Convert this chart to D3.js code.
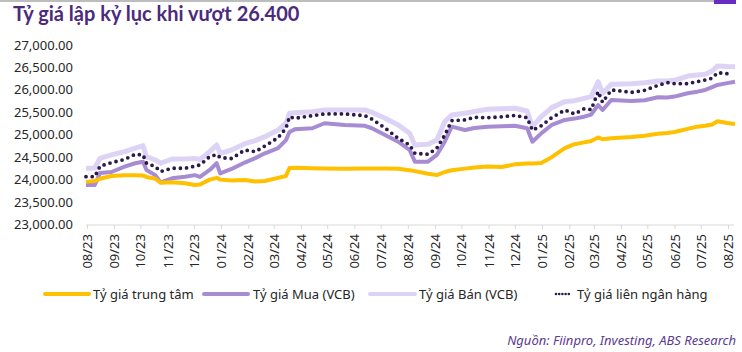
<!DOCTYPE html>
<html>
<head>
<meta charset="utf-8">
<script src="https://cdn.jsdelivr.net/npm/d3@7"></script>
<style>
  body { margin: 0; background: #fff; }
  svg text { font-family: "Noto Sans", sans-serif; }
</style>
</head>
<body>
<div id="chart"></div>
<script>
// ngay lay mau (khoang 2-3 diem / thang)
const dates = ["2023-07-31","2023-08-10","2023-08-16","2023-08-29","2023-09-13","2023-09-25","2023-10-04","2023-10-08","2023-10-18","2023-10-24",
  "2023-11-06","2023-11-21","2023-12-02","2023-12-08","2023-12-19","2023-12-27","2023-12-31","2024-01-13","2024-01-28","2024-02-09",
  "2024-02-20","2024-03-06","2024-03-15","2024-03-19","2024-03-25","2024-04-14","2024-04-28","2024-05-21","2024-06-13","2024-06-21",
  "2024-07-06","2024-07-21","2024-08-03","2024-08-09","2024-08-24","2024-09-03","2024-09-12","2024-09-20","2024-10-05","2024-10-16",
  "2024-10-31","2024-11-16","2024-12-01","2024-12-15","2024-12-21","2024-12-31","2025-01-12","2025-01-27","2025-02-07","2025-02-18",
  "2025-02-26","2025-03-06","2025-03-11","2025-03-21","2025-04-13","2025-04-28","2025-05-13","2025-05-24","2025-06-01","2025-06-16",
  "2025-06-27","2025-07-06","2025-07-14","2025-07-20","2025-07-31","2025-08-09"];

const trungTam = [23950,23970,24020,24080,24100,24100,24090,24060,24020,23930,
  23940,23920,23880,23890,24000,24040,24000,23980,23990,23960,
  23970,24040,24080,24260,24265,24255,24250,24240,24250,24250,
  24250,24240,24210,24190,24130,24100,24170,24210,24245,24270,
  24290,24280,24340,24360,24360,24370,24500,24700,24790,24830,
  24860,24940,24900,24920,24950,24980,25020,25040,25060,25130,
  25180,25200,25230,25300,25260,25240];

const muaVCB = [23880,23880,24150,24170,24290,24365,24400,24215,24100,23940,
  24030,24065,24100,24060,24215,24365,24140,24237,24380,24480,
  24587,24700,24880,25060,25120,25145,25256,25218,25200,25145,
  24995,24845,24660,24400,24400,24550,24845,25180,25106,25150,
  25180,25190,25200,25145,24845,25030,25218,25330,25360,25403,
  25450,25663,25552,25775,25752,25770,25835,25830,25850,25924,
  25960,25998,26060,26110,26150,26183];

const banVCB = [24253,24260,24475,24550,24623,24700,24757,24512,24438,24365,
  24460,24460,24470,24450,24623,24772,24587,24660,24800,24870,
  24957,25106,25256,25478,25490,25515,25552,25552,25552,25500,
  25367,25218,25032,24772,24787,24883,25292,25440,25478,25520,
  25567,25580,25590,25530,25180,25403,25604,25738,25760,25812,
  25850,26183,25924,26124,26139,26160,26198,26200,26213,26309,
  26330,26346,26420,26532,26520,26515];

const lienNganHang = [24065,24065,24300,24380,24450,24565,24550,24365,24290,24180,
  24253,24253,24300,24327,24512,24560,24490,24470,24660,24623,
  24750,24935,25145,25400,25367,25425,25463,25463,25425,25350,
  25150,24920,24772,24587,24565,24700,24990,25315,25330,25390,
  25380,25400,25430,25380,25100,25200,25380,25552,25463,25580,
  25560,25960,25723,25998,25945,25990,26100,26161,26139,26139,
  26183,26220,26260,26383,26361,26361];

const yTicks = [23000,23500,24000,24500,25000,25500,26000,26500,27000];

const width = 742, height = 352;
const parse = d3.timeParse("%Y-%m-%d");
const t = dates.map(parse);

let svg = d3.select("#chart").append("svg")
  .attr("width", width)
  .attr("height", height);

// vien tren + o tim goc phai
svg.append("rect").attr("x", 0).attr("y", 0).attr("width", 714).attr("height", 2).attr("fill", "#bdbdbd");
svg.append("rect").attr("x", 714).attr("y", 0).attr("width", 22).attr("height", 4).attr("fill", "#6a2bc4");

svg.append("text")
  .attr("x", 13).attr("y", 21)
  .attr("fill", "#4b2a7d")
  .style("font-family", "Lato, sans-serif")
  .style("font-weight", "bold")
  .style("font-size", "20px")
  .text("Tỷ giá lập kỷ lục khi vượt 26.400");

let x = d3.scaleTime()
  .domain([parse("2023-07-31"), parse("2025-08-09")])
  .range([86, 735]);
let y = d3.scaleLinear().domain([23000, 27000]).range([224.5, 45]);

// truc y (chi co nhan)
svg.append("g").selectAll("text")
  .data(yTicks)
  .enter().append("text")
  .attr("x", 73)
  .attr("y", d => y(d))
  .attr("dy", "0.35em")
  .attr("text-anchor", "end")
  .attr("fill", "#262626")
  .style("font-size", "13px")
  .text(d => d3.format(",.2f")(d));

// truc x
let xAxis = svg.append("g")
  .attr("transform", "translate(0,225)")
  .call(d3.axisBottom(x)
    .ticks(d3.timeMonth.every(1))
    .tickSize(4)
    .tickSizeOuter(0)
    .tickFormat(d3.timeFormat("%m/%y")));
xAxis.select(".domain").attr("stroke", "#d9d9d9").attr("d", "M86,0H734");
xAxis.selectAll(".tick line").attr("stroke", "#d9d9d9");
xAxis.selectAll(".tick text")
  .attr("transform", "rotate(-90)")
  .attr("x", -9)
  .attr("y", 0)
  .attr("dy", "0.35em")
  .attr("text-anchor", "end")
  .attr("fill", "#262626")
  .style("font-family", "Noto Sans, sans-serif")
  .style("font-size", "13px");

function lineOf(vals) {
  return d3.line()
    .x((d, i) => x(t[i]))
    .y(d => y(d))(vals);
}

svg.append("path").attr("d", lineOf(banVCB))
  .attr("fill", "none").attr("stroke", "#ddd3f5").attr("stroke-width", 5).attr("stroke-linejoin", "round");
svg.append("path").attr("d", lineOf(muaVCB))
  .attr("fill", "none").attr("stroke", "#a78bd3").attr("stroke-width", 4).attr("stroke-linejoin", "round");
svg.append("path").attr("d", lineOf(trungTam))
  .attr("fill", "none").attr("stroke", "#ffc000").attr("stroke-width", 4).attr("stroke-linejoin", "round");
svg.append("path").attr("d", lineOf(lienNganHang.slice(0, -1)))
  .attr("fill", "none").attr("stroke", "#2b1b4a").attr("stroke-width", 3.8)
  .attr("stroke-linecap", "round").attr("stroke-dasharray", "0,6.2");

// chu thich
let legend = [
  { name: "Tỷ giá trung tâm", color: "#ffc000", x1: 45, x2: 89, tx: 93, w: 4, dash: null },
  { name: "Tỷ giá Mua (VCB)", color: "#a78bd3", x1: 204, x2: 248, tx: 253, w: 4, dash: null },
  { name: "Tỷ giá Bán (VCB)", color: "#ddd3f5", x1: 370, x2: 415, tx: 419, w: 4, dash: null },
  { name: "Tỷ giá liên ngân hàng", color: "#2b1b4a", x1: 556, x2: 572, tx: 577, w: 2.6, dash: "0,3.2" }
];
let lg = svg.append("g");
legend.forEach(l => {
  lg.append("line")
    .attr("x1", l.x1).attr("x2", l.x2).attr("y1", 294).attr("y2", 294)
    .attr("stroke", l.color).attr("stroke-width", l.w)
    .attr("stroke-linecap", "round")
    .attr("stroke-dasharray", l.dash);
  lg.append("text")
    .attr("x", l.tx).attr("y", 298.5)
    .attr("fill", "#262626")
    .style("font-size", "13px")
    .text(l.name);
});

svg.append("text")
  .attr("x", 736).attr("y", 345)
  .attr("text-anchor", "end")
  .attr("fill", "#5b3a8f")
  .style("font-style", "italic")
  .style("font-size", "13px")
  .text("Nguồn: Fiinpro, Investing, ABS Research");
</script>
</body>
</html>
